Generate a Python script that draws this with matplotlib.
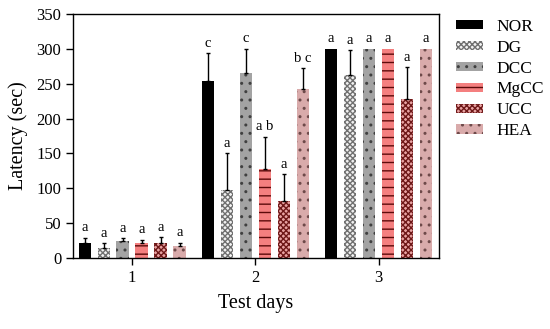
import numpy as np
import matplotlib
matplotlib.use("Agg")
import matplotlib.pyplot as plt

plt.rcParams["font.family"] = ["Liberation Serif", "DejaVu Serif"]
plt.rcParams["hatch.linewidth"] = 1.0

days = [1, 2, 3]
groups = ["NOR", "DG", "DCC", "MgCC", "UCC", "HEA"]

# mean latency (sec) per group, for day 1..3
means = {
    "NOR":  [22, 254, 300],
    "DG":   [15, 97, 262],
    "DCC":  [25, 266, 300],
    "MgCC": [22, 128, 300],
    "UCC":  [21, 82, 228],
    "HEA":  [17, 242, 300],
}
# upper error (sd)
errs = {
    "NOR":  [7, 40, 0],
    "DG":   [6, 53, 36],
    "DCC":  [3, 34, 0],
    "MgCC": [4, 46, 0],
    "UCC":  [9, 38, 46],
    "HEA":  [5, 30, 0],
}
letters = {
    "NOR":  ["a", "c", "a"],
    "DG":   ["a", "a", "a"],
    "DCC":  ["a", "c", "a"],
    "MgCC": ["a", "a b", "a"],
    "UCC":  ["a", "a", "a"],
    "HEA":  ["a", "b c", "a"],
}

styles = {
    "NOR":  dict(facecolor="black", edgecolor="black", hatch=None),
    "DG":   dict(facecolor="#f2f2f2", edgecolor="#707070", hatch="xxxxxx"),
    "DCC":  dict(facecolor="#a3a3a3", edgecolor="#404040", hatch=".."),
    "MgCC": dict(facecolor="#f47f7f", edgecolor="#5c0a0a", hatch="--"),
    "UCC":  dict(facecolor="#e9a3a3", edgecolor="#6e1818", hatch="xxxxxx"),
    "HEA":  dict(facecolor="#d9abab", edgecolor="#6e4a4a", hatch=".."),
}

fig = plt.figure(figsize=(5.5, 3.29), dpi=100)
ax = fig.add_axes([0.1327, 0.2158, 0.798 - 0.1327, 0.957 - 0.2158])

x = np.array(days, dtype=float)
step = 0.154
width = 0.10
handles = []
for i, g in enumerate(groups):
    off = (i - 2.5) * step
    st = styles[g]
    b = ax.bar(x + off, means[g], width, facecolor=st["facecolor"],
               edgecolor=st["edgecolor"], hatch=st["hatch"], linewidth=0,
               zorder=2, label=g)
    handles.append(b)
    m = np.array(means[g], dtype=float)
    e = np.array(errs[g], dtype=float)
    keep = e > 0
    ax.errorbar((x + off)[keep], m[keep], yerr=[np.zeros(keep.sum()), e[keep]],
                fmt="none", ecolor="black", elinewidth=1.0, capsize=1.2,
                capthick=1.0, zorder=3)
    for xi, mi, ei, lab in zip(x + off, m, e, letters[g]):
        ax.text(xi, mi + ei + 5, lab, ha="center", va="bottom", fontsize=10.5)

ax.set_xlim(0.52, 3.49)
ax.set_ylim(0, 350)
ax.set_yticks(range(0, 351, 50))
ax.set_xticks(days)
ax.tick_params(axis="both", direction="out", length=5, width=1, labelsize=12)
for sp in ax.spines.values():
    sp.set_linewidth(1.0)
ax.set_ylabel("Latency (sec)", fontsize=14.5, labelpad=6)
ax.set_xlabel("Test days", fontsize=14.5, labelpad=6)

fig.legend(handles=handles, labels=groups, loc="upper left",
           bbox_to_anchor=(0.80, 0.99), frameon=False, fontsize=12.5,
           handlelength=1.55, handleheight=0.45, handletextpad=0.8,
           labelspacing=0.28)

fig.savefig("out.png", dpi=100)
